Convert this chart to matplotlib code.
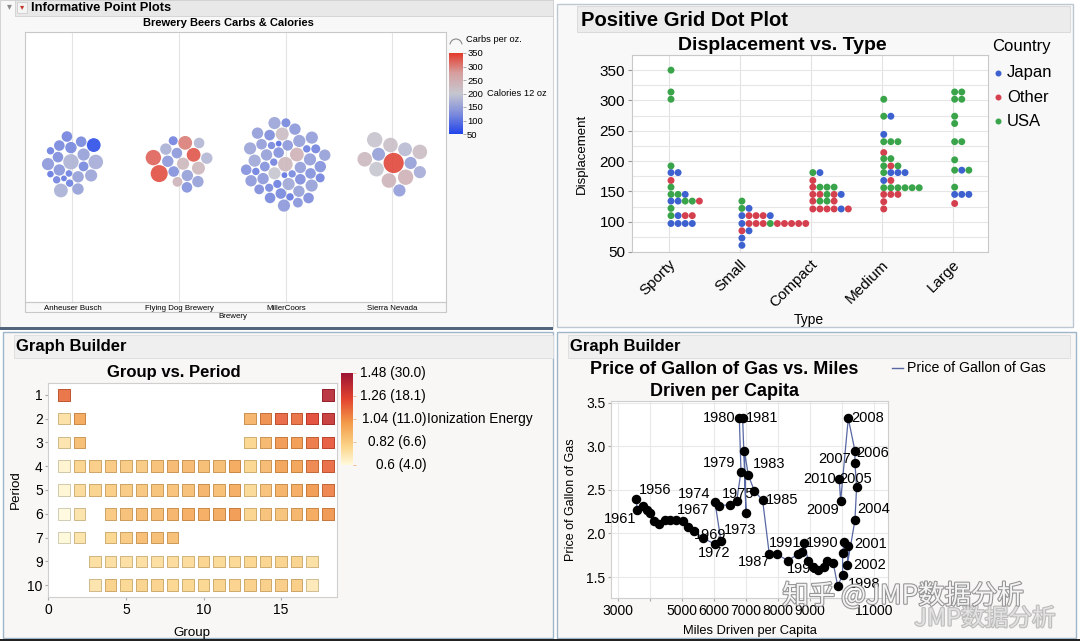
import numpy as np
import matplotlib
matplotlib.use("Agg")
import matplotlib.pyplot as plt
import matplotlib.patheffects as pe
from matplotlib.colors import LinearSegmentedColormap, Normalize
from matplotlib.cm import ScalarMappable
from matplotlib.patches import Rectangle, Arc
from matplotlib.lines import Line2D
from matplotlib.transforms import blended_transform_factory

plt.rcParams['font.family'] = ['Liberation Sans', 'DejaVu Sans']

# ---- panel 1: brewery beers (carbs per oz -> size, calories -> colour)
breweries = ['Anheuser Busch', 'Flying Dog Brewery', 'MillerCoors', 'Sierra Nevada']
ab_carbs = [0.8, 0.45, 0.6, 0.55, 0.5, 0.55, 0.25, 0.55, 0.5, 0.2, 0.6, 0.5, 0.75, 0.6,
            0.3, 0.3, 0.3, 0.5, 0.7, 0.25, 0.55, 0.7]
ab_cal = [175, 120, 150, 120, 125, 135, 110, 150, 120, 105, 140, 120, 165, 155,
          110, 115, 110, 115, 60, 105, 150, 170]
fd_carbs = [0.6, 0.7, 0.5, 0.5, 0.55, 0.65, 0.55, 0.7, 0.45, 0.55, 0.9, 0.55, 0.55,
            0.5, 0.5, 0.8, 0.4]
fd_cal = [230, 330, 140, 130, 150, 230, 140, 300, 235, 170, 335, 150, 180, 130, 180, 320, 115]
mc_carbs = [0.75, 0.7, 0.6, 0.5, 0.3, 0.55, 0.3, 0.2, 0.5, 0.6,
            0.55, 0.45, 0.5, 0.35, 0.6, 0.2, 0.55, 0.3, 0.6, 0.5,
            0.65, 0.3, 0.5, 0.55, 0.6, 0.35, 0.5, 0.6, 0.5, 0.3,
            0.55, 0.4, 0.55, 0.3, 0.6, 0.45, 0.5, 0.55, 0.6, 0.4,
            0.5, 0.55, 0.6, 0.45, 0.5, 0.55, 0.6, 0.4]
mc_cal = [230, 240, 200, 130, 120, 145, 115, 100, 140, 160,
          150, 130, 125, 110, 145, 95, 140, 120, 150, 130,
          220, 110, 120, 150, 160, 120, 145, 150, 125, 110,
          130, 115, 140, 105, 145, 125, 120, 140, 155, 115,
          130, 150, 140, 135, 125, 145, 155, 120]
sn_carbs = [1.1, 0.6, 0.7, 0.75, 0.65, 0.75, 0.75, 0.8, 0.75, 0.6, 0.8, 0.75, 0.6]
sn_cal = [340, 150, 185, 215, 150, 200, 235, 240, 220, 165, 205, 225, 145]

# ---- panel 2: displacement dot plot (rows of stacked cars, J=Japan O=Other U=USA)
car_types = ['Sporty', 'Small', 'Compact', 'Medium', 'Large']
sporty_disp = [350, 314, 302, 192, 181, 168, 157, 145, 134, 122, 110, 97]
sporty_ctry = ['U', 'U', 'U', 'U', 'JJ', 'O', 'U', 'UUJ', 'JJUUO', 'U', 'UJOO', 'JJJJ']
small_disp = [134, 122, 110, 97, 85, 73, 61]
small_ctry = ['U', 'UJ', 'JOOOJ', 'JOOOUOOOOO', 'OJ', 'J', 'J']
compact_disp = [181, 168, 157, 145, 134, 121]
compact_ctry = ['UJ', 'O', 'OUUU', 'OOUOJ', 'OUUO', 'OOOOJO']
medium_disp = [302, 274, 244, 232, 214, 204, 192, 181, 168, 156, 145, 133, 121]
medium_ctry = ['U', 'UJ', 'J', 'UUU', 'O', 'UU', 'UOU', 'UJJJ', 'JO', 'UUUUUU', 'OOO', 'O', 'O']
large_disp = [314, 302, 274, 262, 232, 202, 185, 157, 145, 130]
large_ctry = ['UU', 'UU', 'U', 'U', 'UU', 'U', 'UJU', 'U', 'JJJ', 'O']
countries = ['Japan', 'Other', 'USA']

# ---- panel 3: first ionization energy (eV) by period row / group
period_labels = ['1', '2', '3', '4', '5', '6', '7', '9', '10']
p1_groups = [1, 18]
p1_ie = [13.60, 24.59]
p2_groups = [1, 2, 13, 14, 15, 16, 17, 18]
p2_ie = [5.39, 9.32, 8.30, 11.26, 14.53, 13.62, 17.42, 21.56]
p3_groups = [1, 2, 13, 14, 15, 16, 17, 18]
p3_ie = [5.14, 7.65, 5.99, 8.15, 10.49, 10.36, 12.97, 15.76]
p4_groups = list(range(1, 19))
p4_ie = [4.34, 6.11, 6.56, 6.83, 6.75, 6.77, 7.43, 7.90, 7.88, 7.64, 7.73, 9.39,
         6.00, 7.90, 9.79, 9.75, 11.81, 14.00]
p5_groups = list(range(1, 19))
p5_ie = [4.18, 5.69, 6.22, 6.63, 6.76, 7.09, 7.28, 7.36, 7.46, 8.34, 7.58, 8.99,
         5.79, 7.34, 8.61, 9.01, 10.45, 12.13]
p6_groups = [1, 2] + list(range(4, 19))
p6_ie = [3.89, 5.21, 6.83, 7.55, 7.86, 7.83, 8.44, 8.97, 8.96, 9.23, 10.44,
         6.11, 7.42, 7.29, 8.41, 9.32, 10.75]
p7_groups = [1, 2, 4, 5, 6, 7, 8]
p7_ie = [4.07, 5.28, 6.01, 6.80, 7.80, 7.70, 7.60]
p9_groups = list(range(3, 18))
p9_ie = [5.58, 5.54, 5.47, 5.53, 5.58, 5.64, 5.67, 6.15, 5.86, 5.94, 6.02, 6.11,
         6.18, 6.25, 5.43]
p10_groups = list(range(3, 18))
p10_ie = [5.17, 6.31, 5.89, 6.19, 6.27, 6.03, 5.97, 5.99, 6.20, 6.28, 6.37, 6.50,
          6.58, 6.65, 4.90]
ie_ticks = [0.6, 0.82, 1.04, 1.26, 1.48]
ie_ticklabels = ['0.6 (4.0)', '0.82 (6.6)', '1.04 (11.0)', '1.26 (18.1)', '1.48 (30.0)']

# ---- panel 4: gas price vs miles driven per capita
gas_miles = [3563, 3604, 3792, 3896, 4000, 4125, 4292, 4469, 4625, 4813,
             5021, 5198, 5385, 5646, 6016, 6219, 6031, 6167, 6500, 6708,
             6844, 6792, 6896, 7000, 6948, 7073, 7260, 7521, 7729, 7979,
             8302, 8615, 8740, 8813, 8948, 9104, 9260, 9438, 9521, 9729,
             9865, 10021, 10021, 10073, 10198, 10167, 10406, 10458, 10406, 10406,
             10198, 9958, 9917]
gas_price = [2.40, 2.27, 2.32, 2.27, 2.23, 2.14, 2.11, 2.15, 2.16, 2.16,
             2.14, 2.08, 2.03, 1.95, 1.88, 1.91, 2.36, 2.32, 2.33, 2.37,
             2.71, 3.32, 3.32, 2.24, 2.95, 2.67, 2.49, 2.38, 1.76, 1.76,
             1.69, 1.76, 1.79, 1.89, 1.69, 1.61, 1.58, 1.62, 1.69, 1.66,
             1.40, 1.52, 1.78, 1.90, 1.86, 1.64, 2.15, 2.53, 2.81, 2.95,
             3.32, 2.37, 2.62]
gas_label = ['1956', '1961', '', '', '', '', '', '', '', '',
             '', '', '', '1969', '1972', '1973', '1974', '1967', '', '1975',
             '1979', '1980', '1981', '', '', '1983', '', '1985', '1987', '1991',
             '', '', '', '1990', '', '1999', '', '', '', '',
             '', '1998', '', '', '2001', '2002', '2004', '2005', '2007', '2006',
             '2008', '2009', '2010']
gas_xticks = [3000, 4000, 5000, 6000, 7000, 8000, 9000, 10000, 11000]
gas_xticklabels = ['3000', '', '5000', '6000', '7000', '8000', '9000', '', '11000']

# label placement (offset in points, horizontal alignment)
label_pos = {'1956': (2, 6.5, 'left'), '1961': (-1, -6.5, 'right'), '1969': (-6, 2, 'left'),
             '1972': (0, -6.5, 'center'), '1973': (2, 8, 'left'), '1974': (-3, 6, 'right'),
             '1967': (-7, -3, 'right'), '1975': (1, 5, 'center'), '1979': (-4, 6, 'right'),
             '1980': (-3, 0, 'right'), '1981': (2.5, 0, 'left'), '1983': (3, 8, 'left'),
             '1985': (2.5, 0, 'left'), '1987': (1, -5.5, 'right'), '1991': (5.5, 8, 'center'),
             '1990': (1.5, 0, 'left'), '1999': (-7, -1, 'center'), '1998': (4, -6, 'left'),
             '2001': (4, 1, 'left'), '2002': (4, 0, 'left'), '2004': (1.5, 8, 'left'),
             '2005': (-1, 6, 'center'), '2007': (-3, 2.5, 'right'), '2006': (1, -1.5, 'left'),
             '2008': (2, 0, 'left'), '2009': (-1, -6, 'right'), '2010': (-2.5, 0, 'right')}

W, H = 1080, 641
fig = plt.figure(figsize=(W / 100, H / 100), dpi=100)
fig.patch.set_facecolor('white')


def add_ax(x0, y0, x1, y1):
    return fig.add_axes([x0 / W, 1 - y1 / H, (x1 - x0) / W, (y1 - y0) / H])


def ftext(x, y, s, **kw):
    kw.setdefault('va', 'center')
    return fig.text(x / W, 1 - y / H, s, **kw)


def frect(x0, y0, x1, y1, z=-5, **kw):
    fig.add_artist(Rectangle((x0 / W, 1 - y1 / H), (x1 - x0) / W, (y1 - y0) / H,
                             transform=fig.transFigure, zorder=z, **kw))


def pack(radii, gap=0.8):
    # greedy circle packing: each circle goes to the free spot nearest the centre
    n = len(radii)
    pos = np.zeros((n, 2))
    ang = np.linspace(0, 2 * np.pi, 72, endpoint=False)
    unit = np.column_stack([np.cos(ang), np.sin(ang)])
    for i in range(1, n):
        P, R = pos[:i], radii[:i]
        cand = (P[:, None, :] + (R[:, None, None] + radii[i] + gap) * unit[None]).reshape(-1, 2)
        d = np.linalg.norm(cand[:, None, :] - P[None], axis=2)
        ok = np.all(d >= R[None, :] + radii[i] + gap - 1e-6, axis=1)
        cand = cand[ok]
        pos[i] = cand[np.argmin(np.hypot(cand[:, 0], cand[:, 1]))]
    lo = (pos - radii[:, None]).min(0)
    hi = (pos + radii[:, None]).max(0)
    return pos - (lo + hi) / 2


# ---------------- panel frames (behind the axes)
frect(0, 0, 553, 328, fc='#f8f8f8', ec='#d4d4d4', lw=0.8)
frect(15, 0, 553, 16, fc='#e8e8e8', ec='#d0d0d0', lw=0.6)
frect(0, 327, 553, 329.5, fc='#53657d', ec='none')
frect(557, 4, 1073, 327, fc='#f8f8f8', ec='#bcc7d2', lw=1)
frect(577, 6, 1070, 32, fc='#ececec', ec='#d6d6d6', lw=0.6)
frect(3, 332, 553, 638, fc='#f8f7f5', ec='#9fb6c9', lw=1)
frect(14, 335, 553, 358, fc='#efefef', ec='#dcdcdc', lw=0.6)
frect(557, 332, 1076, 638, fc='#f8f7f5', ec='#9fb6c9', lw=1)
frect(568, 335, 1070, 358, fc='#efefef', ec='#dcdcdc', lw=0.6)
frect(0, 639, 1080, 641, fc='#222222', ec='none')

# ---------------- panel 1
ftext(9, 6, '\u25be', fontsize=7, color='#888888', ha='center', family=['DejaVu Sans'])
frect(17, 2, 27, 13, z=1, fc='#f4f4f4', ec='#c8c8c8', lw=0.5)
ftext(22, 7, '\u25be', fontsize=6, color='#c0392b', ha='center', family=['DejaVu Sans'])
ftext(31, 8, 'Informative Point Plots', fontsize=9.3, fontweight='bold', ha='left')
ftext(228, 23, 'Brewery Beers Carbs & Calories', fontsize=8, fontweight='bold', ha='center')

cmap1 = LinearSegmentedColormap.from_list(
    'bgr', [(0, '#2244ea'), (0.25, '#7d8cdc'), (0.5, '#c6c6d0'), (0.75, '#d6a0a0'),
            (1, '#e33a2b')])
norm1 = Normalize(50, 350)
ax1 = add_ax(24.5, 32, 445.6, 302)
ax1.set_facecolor('white')
ax1.set_xlim(-0.45, 3.5)
ax1.set_ylim(0, 1)
for i in range(4):
    ax1.axvline(i, color='#e4e4e4', lw=0.8, zorder=0)
ax1.set_yticks([])
ax1.set_xticks(range(4))
ax1.set_xticklabels(breweries, fontsize=5.7)
ax1.tick_params(axis='x', length=0, pad=1.8)
for s in ax1.spines.values():
    s.set_color('#c8c8c8')
frect(24.5, 302, 445.6, 312, z=1, fc='none', ec='#c8c8c8', lw=0.8)
ftext(233, 317, 'Brewery', fontsize=5.7, ha='center')

for i, (carbs, cal) in enumerate([(ab_carbs, ab_cal), (fd_carbs, fd_cal),
                                  (mc_carbs, mc_cal), (sn_carbs, sn_cal)]):
    r = 1.3 + 8.0 * np.array(carbs)
    off = pack(r)
    c_px = ax1.transData.transform((i, 0.51))
    pts = ax1.transData.inverted().transform(c_px + off)
    ax1.scatter(pts[:, 0], pts[:, 1], s=(2 * r * 0.72) ** 2, c=cal, cmap=cmap1, norm=norm1,
                edgecolors='none', alpha=0.9, zorder=3)

cax1 = add_ax(449, 53, 463, 134)
cb1 = fig.colorbar(ScalarMappable(norm1, cmap1), cax=cax1, ticks=range(50, 351, 50))
cb1.outline.set_visible(False)
cax1.tick_params(labelsize=6.8, length=2, width=0.5, pad=1, color='#888888')
ftext(466, 40, 'Carbs per oz.', fontsize=6.7, ha='left')
fig.add_artist(Arc((456 / W, 1 - 45 / H), 12 / W, 12 / H, theta1=10, theta2=170,
                   transform=fig.transFigure, color='#888888', lw=0.8))
ftext(487, 94, 'Calories 12 oz', fontsize=6.7, ha='left')

# ---------------- panel 2
ftext(581, 20, 'Positive Grid Dot Plot', fontsize=14.5, fontweight='bold', ha='left')
ftext(782.5, 45, 'Displacement vs. Type', fontsize=14, fontweight='bold', ha='center')
ctry_colors = {'J': '#3d62d0', 'O': '#d5404f', 'U': '#39a449'}
ax2 = add_ax(632, 55, 988, 252)
ax2.set_facecolor('white')
ax2.set_xlim(-0.52, 4.5)
ax2.set_ylim(50, 375)
ax2.set_yticks(range(50, 351, 50))
ax2.set_yticks(range(75, 376, 50), minor=True)
ax2.grid(axis='y', which='both', color='#e6e6e6', lw=0.8)
for i in range(5):
    ax2.axvline(i, color='#e2e2e2', lw=0.8, zorder=0)
ax2.set_axisbelow(True)
xs, ys, cs = [], [], []
for i, (disp, ctry) in enumerate([(sporty_disp, sporty_ctry), (small_disp, small_ctry),
                                  (compact_disp, compact_ctry), (medium_disp, medium_ctry),
                                  (large_disp, large_ctry)]):
    for v, row in zip(disp, ctry):
        for k, ch in enumerate(row):
            xs.append(i + 0.03 + 0.1 * k)
            ys.append(v)
            cs.append(ctry_colors[ch])
ax2.scatter(xs, ys, s=25, c=cs, edgecolors='none', zorder=3)
ax2.set_xticks(range(5))
ax2.set_xticklabels(car_types, rotation=45, ha='right', rotation_mode='anchor', fontsize=11)
ax2.tick_params(axis='x', length=0, pad=4)
ax2.tick_params(axis='y', which='major', labelsize=11, length=3, color='#999999', pad=2)
ax2.tick_params(axis='y', which='minor', length=0)
for s in ax2.spines.values():
    s.set_color('#c9c9c9')
ax2.set_ylabel('Displacement', fontsize=9.5)
ax2.yaxis.set_label_coords(-0.124, 0.5)
ax2.set_xlabel('Type', fontsize=10)
ax2.xaxis.set_label_coords(0.497, -0.31)
ftext(992, 47, 'Country', fontsize=12, ha='left')
for k, (name, ch) in enumerate(zip(countries, 'JOU')):
    y = 73 + 24 * k
    fig.add_artist(Line2D([998 / W], [1 - y / H], marker='o', ms=3.3, color=ctry_colors[ch],
                          transform=fig.transFigure))
    ftext(1007, y, name, fontsize=12, ha='left')

# ---------------- panel 3
ftext(16, 346, 'Graph Builder', fontsize=12, fontweight='bold', ha='left')
ftext(174, 372, 'Group vs. Period', fontsize=12, fontweight='bold', ha='center')
cmap3 = LinearSegmentedColormap.from_list(
    'ylrd', [(0, '#fffadc'), (0.2, '#fbd58a'), (0.45, '#f39d4b'), (0.72, '#e2432e'),
             (1, '#9c1334')])
norm3 = Normalize(0.6, 1.48)
ax3 = add_ax(48.4, 383, 337, 597)
ax3.set_facecolor('white')
ax3.set_xlim(0, 18.6)
ax3.set_ylim(8.5, -0.5)
rows = [(p1_groups, p1_ie), (p2_groups, p2_ie), (p3_groups, p3_ie), (p4_groups, p4_ie),
        (p5_groups, p5_ie), (p6_groups, p6_ie), (p7_groups, p7_ie), (p9_groups, p9_ie),
        (p10_groups, p10_ie)]
for r_i, (groups, ie) in enumerate(rows):
    fc = cmap3(norm3(np.log10(ie)))
    ec = fc.copy()
    ec[:, :3] *= 0.82
    fc[:, 3] = 0.9
    ax3.scatter(groups, [r_i] * len(groups), s=70, marker='s', color=fc, edgecolors=ec,
                linewidths=0.7, zorder=3)
ax3.set_xticks([0, 5, 10, 15])
ax3.set_yticks(range(9))
ax3.set_yticklabels(period_labels)
ax3.tick_params(labelsize=10, length=2, color='#aaaaaa', pad=2)
for s in ax3.spines.values():
    s.set_color('#cfcfcf')
ax3.set_ylabel('Period', fontsize=9.6)
ax3.yaxis.set_label_coords(-0.092, 0.5)
ax3.set_xlabel('Group', fontsize=9.6)
ax3.xaxis.set_label_coords(0.498, -0.14)

cax3 = add_ax(341, 373, 353, 465)
cb3 = fig.colorbar(ScalarMappable(norm3, cmap3), cax=cax3, ticks=ie_ticks)
cb3.outline.set_visible(False)
cb3.set_ticklabels([''] * len(ie_ticks))
cax3.tick_params(length=2, width=0.6, color='#f0b080')
tr = blended_transform_factory(cax3.transAxes, cax3.transData)
for v, lab in zip(ie_ticks, ie_ticklabels):
    cax3.text(7.1, v, lab, transform=tr, ha='right', va='center', fontsize=9.8)
ftext(427, 419, 'Ionization Energy', fontsize=9.8, ha='left')

# ---------------- panel 4
ftext(570, 346, 'Graph Builder', fontsize=12, fontweight='bold', ha='left')
ftext(724.5, 369, 'Price of Gallon of Gas vs. Miles', fontsize=13, fontweight='bold', ha='center')
ftext(724.5, 391, 'Driven per Capita', fontsize=13, fontweight='bold', ha='center')
ax4 = add_ax(611, 401, 888, 598)
ax4.set_facecolor('white')
ax4.set_xlim(2780, 11440)
ax4.set_ylim(1.26, 3.52)
ax4.set_xticks(gas_xticks)
ax4.set_xticklabels(gas_xticklabels)
ax4.set_yticks([1.5, 2.0, 2.5, 3.0, 3.5])
ax4.grid(color='#e9e9e9', lw=0.8)
ax4.set_axisbelow(True)
ax4.plot(gas_miles, gas_price, color='#5767a3', lw=0.9, zorder=2)
ax4.scatter(gas_miles, gas_price, s=34, color='black', zorder=3)
for x, y, lab in zip(gas_miles, gas_price, gas_label):
    if lab:
        dx, dy, ha = label_pos[lab]
        ax4.annotate(lab, (x, y), xytext=(dx, dy), textcoords='offset points',
                     ha=ha, va='center', fontsize=10.5, zorder=4)
ax4.tick_params(labelsize=10, length=2, color='#aaaaaa', pad=2)
for s in ax4.spines.values():
    s.set_color('#cfcfcf')
ax4.set_ylabel('Price of Gallon of Gas', fontsize=9)
ax4.yaxis.set_label_coords(-0.123, 0.5)
ax4.set_xlabel('Miles Driven per Capita', fontsize=9.3)
ax4.xaxis.set_label_coords(0.502, -0.137)
fig.add_artist(Line2D([892 / W, 903 / W], [1 - 368 / H] * 2, color='#5767a3', lw=1,
                      transform=fig.transFigure))
ftext(907, 368, 'Price of Gallon of Gas', fontsize=10.2, ha='left')

# ---------------- watermark
wm = [pe.withStroke(linewidth=1.6, foreground='#8c8c8c')]
ftext(903, 596, '知乎 @JMP数据分析', fontsize=19, color='white', ha='center', alpha=0.9,
      family=['Noto Sans CJK SC', 'DejaVu Sans'], path_effects=wm, zorder=10)
ftext(985, 619, 'JMP数据分析', fontsize=17, color='white', ha='center', alpha=0.55,
      family=['Noto Sans CJK SC', 'DejaVu Sans'], path_effects=wm, zorder=10)

fig.savefig('out.png', dpi=100)
